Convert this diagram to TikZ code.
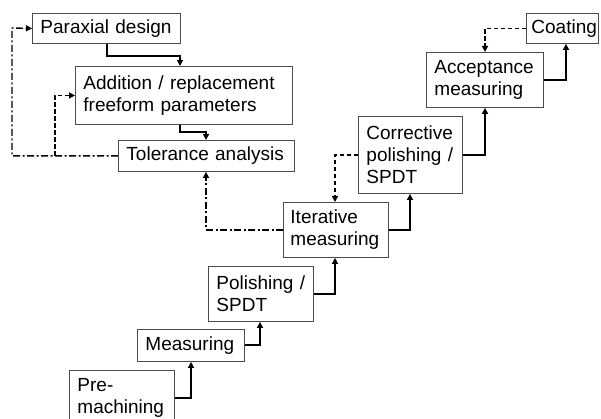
\documentclass[tikz,border=0pt]{standalone}
\usepackage{fontspec}
\setmainfont{Liberation Sans}
\usetikzlibrary{arrows.meta}
\begin{document}
\begin{tikzpicture}[x=1pt,y=-1pt,
  box/.style={draw=black!70, line width=0.9pt, align=left, anchor=north west,
    inner xsep=8pt, inner ysep=0pt, font=\fontsize{19}{22}\selectfont},
  flow/.style={line width=2pt, -{Triangle[length=6pt,width=6pt]}},
  fb/.style={line width=1.4pt, dash pattern=on 4.5pt off 2.5pt, -{Triangle[length=6pt,width=6pt]}},
  fbd/.style={line width=1.4pt, dash pattern=on 7pt off 2.5pt on 2pt off 2.5pt, -{Triangle[length=6pt,width=6pt]}}]
\useasboundingbox (0,0) rectangle (601,419);
\node[box, text width=132pt, minimum height=30pt] (par) at (32,13) {Paraxial design};
\node[box, text width=201pt, minimum height=58pt] (add) at (75,66) {Addition / replacement\\freeform parameters};
\node[box, text width=160pt, minimum height=31pt] (tol) at (118,140) {Tolerance analysis};
\node[box, inner xsep=5pt, text width=62pt, minimum height=30pt] (coat) at (526,13) {Coating};
\node[box, text width=101pt, minimum height=55pt] (acc) at (426,52) {Acceptance\\measuring};
\node[box, text width=88pt, minimum height=77pt] (cor) at (358,116) {Corrective\\polishing /\\SPDT};
\node[box, inner xsep=7pt, text width=91pt, minimum height=55pt] (ite) at (283,202) {Iterative\\measuring};
\node[box, text width=89pt, minimum height=55pt] (pol) at (208,266) {Polishing /\\SPDT};
\node[box, text width=91pt, minimum height=32pt] (mea) at (137,329) {Measuring};
\node[box, text width=89pt, minimum height=55pt] (pre) at (69,370) {Pre-\\machining};
\coordinate (lc) at (12,28);
\coordinate (lj) at (55,0);
% solid flow
\draw[flow] ([xshift=75pt]par.south west) -- ++(0,12) -| ([xshift=105pt]add.north west);
\draw[flow] ([xshift=105pt]add.south west) -- ++(0,7) -| ([xshift=88pt]tol.north west);
\draw[flow] (pre.east) -| ([xshift=54pt]mea.south west);
\draw[flow] (mea.east) -| ([xshift=52pt]pol.south west);
\draw[flow] (pol.east) -| ([xshift=52pt]ite.south west);
\draw[flow] (ite.east) -| ([xshift=52pt]cor.south west);
\draw[flow] (cor.east) -| ([xshift=59pt]acc.south west);
\draw[flow] (acc.east) -| ([xshift=40pt]coat.south west);
% feedback
\draw[fb] (coat.west) -| ([xshift=59pt]acc.north west);
\draw[fb] (cor.west) -| ([xshift=52pt]ite.north west);
\draw[fbd] (ite.west) -| ([xshift=88pt]tol.south west);
\draw[fbd] (tol.west) -| (lc) -- (par.west);
\draw[fb] (tol.west -| lj) |- (add.west);
\end{tikzpicture}
\end{document}
